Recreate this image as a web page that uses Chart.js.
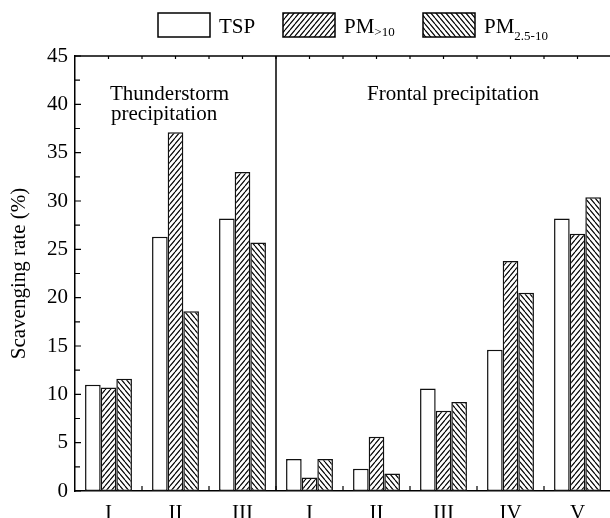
<!DOCTYPE html>
<html>
<head>
<meta charset="utf-8">
<script src="https://cdn.jsdelivr.net/npm/chart.js@4"></script>
<style>
  html, body { margin: 0; padding: 0; background: #fff; overflow: hidden; }
  #wrap { width: 612px; height: 518px; }
</style>
</head>
<body>
<div id="wrap"><canvas id="chart" width="612" height="518"></canvas></div>
<script>
// categories: 3 thunderstorm events, then 5 frontal events
const categories = ["I", "II", "III", "I", "II", "III", "IV", "V"];
const seriesNames = ["TSP", "PM", "PM"];
const seriesSubs = ["", ">10", "2.5-10"];

const tsp = [11.0, 26.3, 28.2, 3.3, 2.3, 10.6, 14.6, 28.2];
const pmCoarse = [10.7, 37.1, 33.0, 1.4, 5.6, 8.3, 23.8, 26.6];
const pmMid = [11.6, 18.6, 25.7, 3.3, 1.8, 9.2, 20.5, 30.4];

const yMin = 0;
const yMax = 45;
const yStep = 5;

const FONT = "'Liberation Serif', 'Times New Roman', serif";

// hatch fill for the PM bars
function makeHatch(forward) {
  const w = 5, h = 6;
  const c = document.createElement("canvas");
  c.width = w;
  c.height = h;
  const g = c.getContext("2d");
  g.fillStyle = "#fff";
  g.fillRect(0, 0, w, h);
  g.strokeStyle = "#000";
  g.lineWidth = 1.15;
  g.beginPath();
  for (let k = -1; k <= 1; k++) {
    if (forward) {
      g.moveTo(k * w, h);
      g.lineTo(k * w + w, 0);
    } else {
      g.moveTo(k * w, 0);
      g.lineTo(k * w + w, h);
    }
  }
  g.stroke();
  return g.createPattern(c, "repeat");
}

const ctx = document.getElementById("chart").getContext("2d");
const fills = ["#fff", makeHatch(true), makeHatch(false)];

const decor = {
  id: "decor",
  afterDraw(chart) {
    const c = chart.ctx;
    const area = chart.chartArea;
    const xs = chart.scales.x;
    const ys = chart.scales.y;
    c.save();
    c.strokeStyle = "#000";
    c.lineWidth = 1.5;

    // top frame line and right frame line
    c.beginPath();
    c.moveTo(area.left, area.top);
    c.lineTo(area.right, area.top);
    c.moveTo(area.right, area.top);
    c.lineTo(area.right, area.bottom);
    c.stroke();

    // inward ticks on the y axis (major + minor)
    c.lineWidth = 1.2;
    c.beginPath();
    for (let v = yMin; v <= yMax; v += yStep / 2) {
      const y = ys.getPixelForValue(v);
      const len = v % yStep === 0 ? 6 : 5;
      c.moveTo(area.left, y);
      c.lineTo(area.left + len, y);
    }
    // bottom ticks at category boundaries, top ticks at centres and boundaries
    const n = categories.length;
    for (let i = 0; i < n; i++) {
      const cx = xs.getPixelForValue(i);
      c.moveTo(cx, area.top);
      c.lineTo(cx, area.top + 3);
      if (i < n - 1) {
        const bx = (cx + xs.getPixelForValue(i + 1)) / 2;
        c.moveTo(bx, area.bottom);
        c.lineTo(bx, area.bottom - 5);
        c.moveTo(bx, area.top);
        c.lineTo(bx, area.top + 3);
      }
    }
    c.stroke();

    // divider between the two precipitation types
    const dx = (xs.getPixelForValue(2) + xs.getPixelForValue(3)) / 2;
    c.lineWidth = 1.5;
    c.beginPath();
    c.moveTo(dx, area.top);
    c.lineTo(dx, area.bottom);
    c.stroke();

    // group captions
    c.fillStyle = "#000";
    c.font = "21px " + FONT;
    c.textAlign = "left";
    c.textBaseline = "alphabetic";
    c.fillText("Thunderstorm", area.left + 35, area.top + 44);
    c.fillText("precipitation", area.left + 36, area.top + 64);
    c.fillText("Frontal precipitation", dx + 91, area.top + 44);

    // legend with subscripts
    const boxX = [158, 283, 423];
    chart.data.datasets.forEach((ds, i) => {
      const bx = boxX[i], by = 13, bw = 52, bh = 24;
      c.fillStyle = ds.backgroundColor;
      c.fillRect(bx, by, bw, bh);
      c.strokeStyle = "#000";
      c.lineWidth = 1.5;
      c.strokeRect(bx, by, bw, bh);
      c.fillStyle = "#000";
      c.font = "21px " + FONT;
      const tx = bx + 61;
      c.fillText(seriesNames[i], tx, 33);
      if (seriesSubs[i]) {
        const mw = c.measureText(seriesNames[i]).width;
        c.font = "13px " + FONT;
        c.fillText(seriesSubs[i], tx + mw, i === 1 ? 36 : 40);
      }
    });
    c.restore();
  },
};

new Chart(ctx, {
  type: "bar",
  data: {
    labels: categories,
    datasets: [tsp, pmCoarse, pmMid].map((vals, i) => ({
      label: seriesNames[i] + seriesSubs[i],
      data: vals,
      backgroundColor: fills[i],
      borderColor: "#111",
      borderWidth: 1.5,
      borderSkipped: false,
      barPercentage: 1.0,
      categoryPercentage: 0.7,
    })),
  },
  options: {
    responsive: false,
    animation: false,
    layout: { padding: { left: 0, top: 56, right: 1, bottom: 0 } },
    plugins: {
      legend: { display: false },
      tooltip: { enabled: false },
    },
    scales: {
      x: {
        offset: true,
        grid: { display: false, drawTicks: false },
        border: { display: true, color: "#000", width: 1.5 },
        ticks: {
          color: "#000",
          font: { family: FONT, size: 21 },
          padding: 10,
          maxRotation: 0,
          autoSkip: false,
        },
        afterFit(scale) {
          scale.height = 27;
        },
      },
      y: {
        min: yMin,
        max: yMax,
        grid: { display: false, drawTicks: false },
        border: { display: true, color: "#000", width: 1.5 },
        ticks: {
          stepSize: yStep,
          color: "#000",
          font: { family: FONT, size: 21 },
          padding: 7,
        },
        title: {
          display: true,
          text: "Scavenging rate (%)",
          color: "#000",
          font: { family: FONT, size: 21 },
          padding: { top: 7, bottom: 0 },
        },
        afterFit(scale) {
          scale.width = 75;
        },
      },
    },
  },
  plugins: [decor],
});
</script>
</body>
</html>
